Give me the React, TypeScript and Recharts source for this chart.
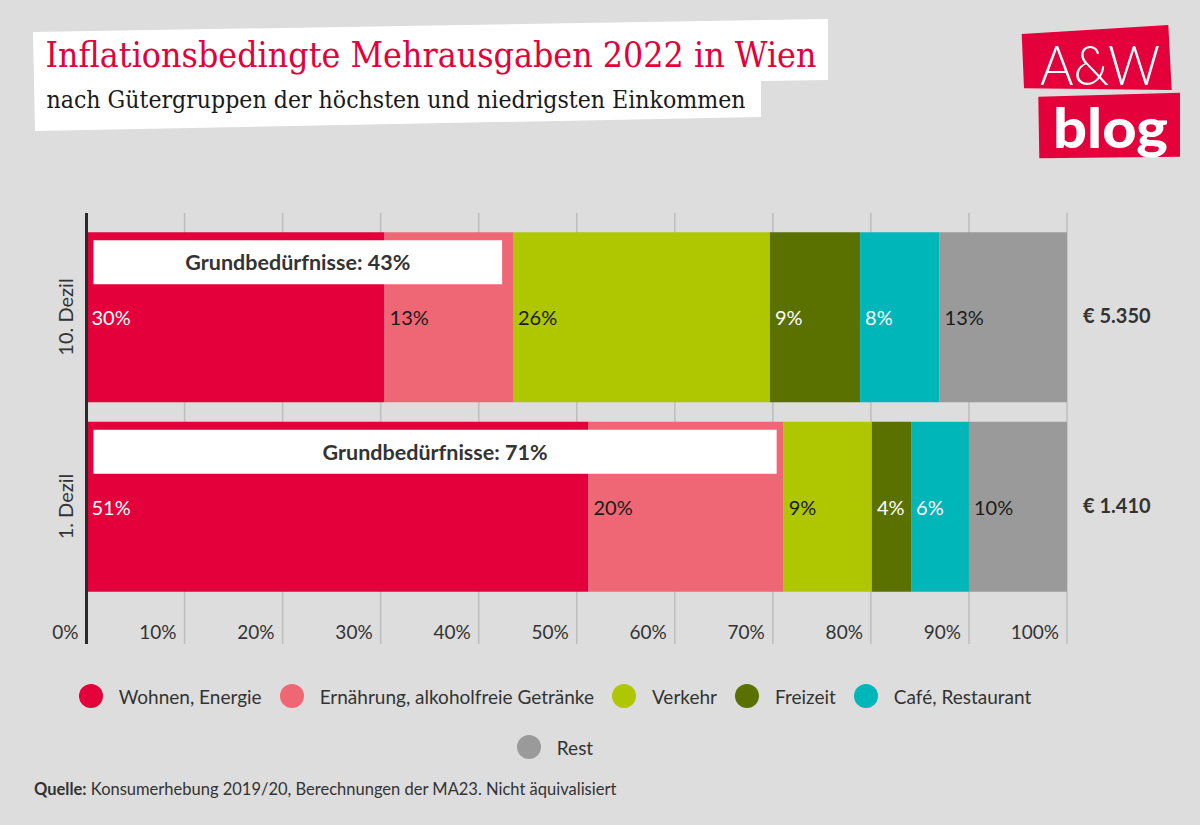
import React from 'react';
import { BarChart, Bar, XAxis, YAxis, CartesianGrid, LabelList, Legend } from 'recharts';

const categories = ['10. Dezil', '1. Dezil'];
const wohnenEnergie = [30.4, 51.2];
const ernaehrung = [13.1, 19.9];
const verkehr = [26.2, 9.0];
const freizeit = [9.2, 4.0];
const cafeRestaurant = [8.1, 5.9];
const rest = [13.0, 10.0];
const grundbeduerfnisse = [43, 71];
const ausgaben = ['€ 5.350', '€ 1.410'];
const xTicks = [0, 10, 20, 30, 40, 50, 60, 70, 80, 90, 100];

const seriesKeys = ['wohnen', 'ernaehrung', 'verkehr', 'freizeit', 'cafe', 'rest'];
const seriesNames = ['Wohnen, Energie', 'Ernährung, alkoholfreie Getränke', 'Verkehr', 'Freizeit', 'Café, Restaurant', 'Rest'];
const seriesColors = ['#e4003a', '#ef6774', '#afc700', '#5a7100', '#00b6b9', '#9a9a9a'];
const labelColors = ['#ffffff', '#1a1a1a', '#1a1a1a', '#ffffff', '#ffffff', '#1a1a1a'];

const data = categories.map((name, i) => ({
  name,
  wohnen: wohnenEnergie[i],
  ernaehrung: ernaehrung[i],
  verkehr: verkehr[i],
  freizeit: freizeit[i],
  cafe: cafeRestaurant[i],
  rest: rest[i],
  grund: grundbeduerfnisse[i],
  amount: ausgaben[i],
}));

const FONT = 'Lato, "Open Sans", sans-serif';
const TEXT = '#333333';

const getBox = (props: any) => {
  const vb = props.viewBox || {};
  return {
    x: Number(vb.x ?? props.x),
    y: Number(vb.y ?? props.y),
    width: Number(vb.width ?? props.width),
    height: Number(vb.height ?? props.height),
  };
};

const pctLabel = (color: string) => (props: any) => {
  const b = getBox(props);
  return (
    <text x={b.x + 5} y={b.y + b.height / 2} fill={color} fontSize={20} fontFamily={FONT} dominantBaseline="central">
      {Math.round(Number(props.value))}%
    </text>
  );
};

const grundLabel = (props: any) => {
  const b = getBox(props);
  const row: any = data[props.index];
  if (!row) return null;
  const total = seriesKeys.reduce((s, k) => s + row[k], 0);
  const px = b.width / row.rest;
  const x0 = b.x + b.width - total * px;
  const left = x0 + 7;
  const right = x0 + row.grund * px - 6;
  const top = b.y + 8;
  const h = 44;
  return (
    <g>
      <rect x={left} y={top} width={right - left} height={h} fill="#ffffff" />
      <text x={(left + right) / 2} y={top + h / 2} textAnchor="middle" dominantBaseline="central" fontFamily={FONT} fontWeight={700} fontSize={21.5} fill={TEXT}>
        {`Grundbedürfnisse: ${row.grund}%`}
      </text>
    </g>
  );
};

const amountLabel = (props: any) => {
  const b = getBox(props);
  return (
    <text x={b.x + b.width + 16} y={b.y + b.height / 2 - 2} fill={TEXT} fontSize={20} fontWeight={700} fontFamily={FONT} dominantBaseline="central">
      {props.value}
    </text>
  );
};

const XTick = (props: any) => {
  const { x, y, payload } = props;
  return (
    <text x={x - 8} y={y - 13} textAnchor="end" dominantBaseline="central" fill={TEXT} fontSize={19} fontFamily={FONT}>
      {`${payload.value}%`}
    </text>
  );
};

const YTick = (props: any) => {
  const { x, y, payload } = props;
  const cx = x - 21.5;
  return (
    <text x={cx} y={y} transform={`rotate(-90, ${cx}, ${y})`} textAnchor="middle" dominantBaseline="central" fill={TEXT} fontSize={20} fontFamily={FONT}>
      {payload.value}
    </text>
  );
};

const LegendContent = (props: any) => {
  const payload = [...(props.payload || [])].sort(
    (a: any, b: any) => seriesNames.indexOf(a.value) - seriesNames.indexOf(b.value)
  );
  return (
    <div style={{ display: 'flex', flexWrap: 'wrap', justifyContent: 'center', columnGap: 18, rowGap: 27, fontFamily: FONT }}>
      {payload.map((p: any, i: number) => (
        <div key={i} style={{ display: 'flex', alignItems: 'center', height: 24 }}>
          <span style={{ width: 24, height: 24, borderRadius: 12, background: p.color, display: 'inline-block', marginRight: 16 }} />
          <span style={{ fontSize: 19, color: TEXT, whiteSpace: 'nowrap' }}>{p.value}</span>
        </div>
      ))}
    </div>
  );
};

export default function App() {
  return (
    <div style={{ position: 'relative', width: 1200, height: 825, background: '#dddddd', overflow: 'hidden' }}>
      <style>{`html,body{margin:0;padding:0;background:#dddddd;}`}</style>
      <svg width={1200} height={825} style={{ position: 'absolute', left: 0, top: 0, pointerEvents: 'none' }}>
        <polygon points="33,32 828,19 828,80 761,81 761,117 35,131" fill="#ffffff" />
        <text x={45.5} y={67} fontSize={36} fontFamily='"DejaVu Serif", serif' style={{ fontStretch: 'condensed' }} fill="#e4003a" textLength={771} lengthAdjust="spacingAndGlyphs">
          Inflationsbedingte Mehrausgaben 2022 in Wien
        </text>
        <text x={46.5} y={108} fontSize={24} fontFamily='"DejaVu Serif", serif' style={{ fontStretch: 'condensed' }} fill="#1a1a1a" textLength={699} lengthAdjust="spacingAndGlyphs">
          nach Gütergruppen der höchsten und niedrigsten Einkommen
        </text>
        <polygon points="1021.7,34 1168.3,25 1171.7,90 1024,88.3" fill="#e4003a" />
        <polygon points="1038.3,96.7 1180,92.7 1180,156.7 1039.3,158.3" fill="#e4003a" />
        <text x={1040} y={85} fontSize={55} fontWeight={300} fontFamily={FONT} fill="#ffffff" textLength={120} lengthAdjust="spacingAndGlyphs">A&amp;W</text>
        <text x={1053} y={148} fontSize={55} fontWeight={900} fontFamily={FONT} fill="#ffffff" textLength={115} lengthAdjust="spacingAndGlyphs">blog</text>
      </svg>
      <div style={{ position: 'absolute', left: 0, top: 0 }}>
        <BarChart
          width={1200}
          height={825}
          data={data}
          layout="vertical"
          margin={{ top: 213, right: 133, bottom: 151, left: 46.5 }}
        >
          <CartesianGrid horizontal={false} stroke="#bdbdbd" strokeWidth={1.5} />
          <XAxis
            type="number"
            domain={[0, 100]}
            ticks={xTicks}
            interval={0}
            axisLine={false}
            tickLine={false}
            tickSize={0}
            tickMargin={0}
            height={30}
            tick={<XTick />}
          />
          <YAxis
            type="category"
            dataKey="name"
            width={40}
            padding={{ top: 9.25, bottom: 42.75 }}
            axisLine={{ stroke: '#2a2a2a', strokeWidth: 3 }}
            tickLine={false}
            tickSize={0}
            tickMargin={0}
            tick={<YTick />}
          />
          <Legend
            layout="horizontal"
            verticalAlign="middle"
            align="center"
            itemSorter={null as any}
            content={<LegendContent />}
            wrapperStyle={{ position: 'absolute', left: 55, top: 684, width: 1000 }}
          />
          {seriesKeys.map((k, i) => (
            <Bar
              key={k}
              dataKey={k}
              name={seriesNames[i]}
              stackId="a"
              fill={seriesColors[i]}
              barSize={170}
              isAnimationActive={false}
            >
              <LabelList dataKey={k} content={pctLabel(labelColors[i])} />
              {k === 'rest' ? <LabelList dataKey="grund" content={grundLabel} /> : null}
              {k === 'rest' ? <LabelList dataKey="amount" content={amountLabel} /> : null}
            </Bar>
          ))}
        </BarChart>
      </div>
      <div style={{ position: 'absolute', left: 34, top: 779, fontFamily: FONT, fontSize: 16.5, color: TEXT, whiteSpace: 'nowrap' }}>
        <b>Quelle:</b> Konsumerhebung 2019/20, Berechnungen der MA23. Nicht äquivalisiert
      </div>
    </div>
  );
}
